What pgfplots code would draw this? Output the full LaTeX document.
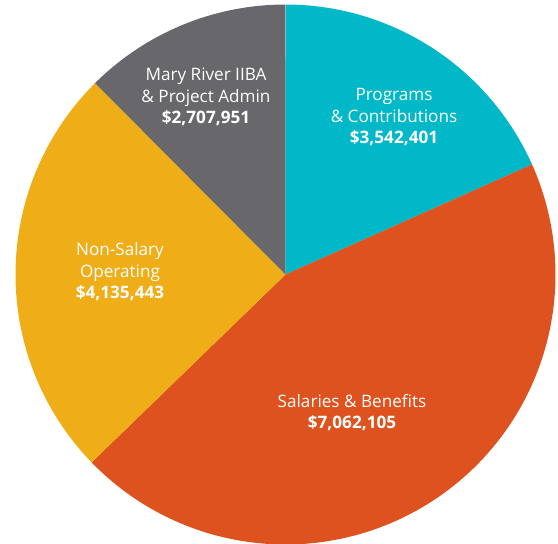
\documentclass[border=0pt]{standalone}
\usepackage{fontspec}
\setmainfont{Open Sans}
\usepackage{pgfplots}
\pgfplotsset{compat=1.18}
\definecolor{cteal}{RGB}{0,184,200}
\definecolor{corange}{RGB}{221,82,30}
\definecolor{cyellow}{RGB}{239,173,24}
\definecolor{cgray}{RGB}{104,104,108}
\begin{document}
\begin{tikzpicture}
\begin{axis}[
    width=558bp, height=544bp, scale only axis,
    xmin=-1.0574, xmax=1.0093, ymin=-0.9981, ymax=1.0167,
    hide axis, clip=true,
]
% slice boundaries in degrees
\addplot[fill=cteal, draw=none, domain=24.06:90, samples=80, variable=\t]
    ({cos(t)},{sin(t)}) -- (axis cs:0,0) -- cycle;
\addplot[fill=corange, draw=none, domain=-135.9:24.06, samples=160, variable=\t]
    ({cos(t)},{sin(t)}) -- (axis cs:0,0) -- cycle;
\addplot[fill=cyellow, draw=none, domain=-225.15:-135.9, samples=100, variable=\t]
    ({cos(t)},{sin(t)}) -- (axis cs:0,0) -- cycle;
\addplot[fill=cgray, draw=none, domain=-270:-225.15, samples=60, variable=\t]
    ({cos(t)},{sin(t)}) -- (axis cs:0,0) -- cycle;

\tikzset{lbl/.style={text=white, align=center, inner sep=0pt,
    font=\fontsize{17.2}{21.5}\selectfont}}
\node[lbl] at (axis cs:0.4019,0.5833) {Programs\\\& Contributions\\\textbf{\$3,542,401}};
\node[lbl] at (axis cs:-0.2944,0.6574) {Mary River IIBA\\\& Project Admin\\\textbf{\$2,707,951}};
\node[lbl] at (axis cs:-0.6130,0.0093) {Non-Salary\\Operating\\\textbf{\$4,135,443}};
\node[lbl] at (axis cs:0.2463,-0.5111) {Salaries \& Benefits\\\textbf{\$7,062,105}};
\end{axis}
\path (current axis.south west) rectangle (current axis.north east);
\end{tikzpicture}
\end{document}
